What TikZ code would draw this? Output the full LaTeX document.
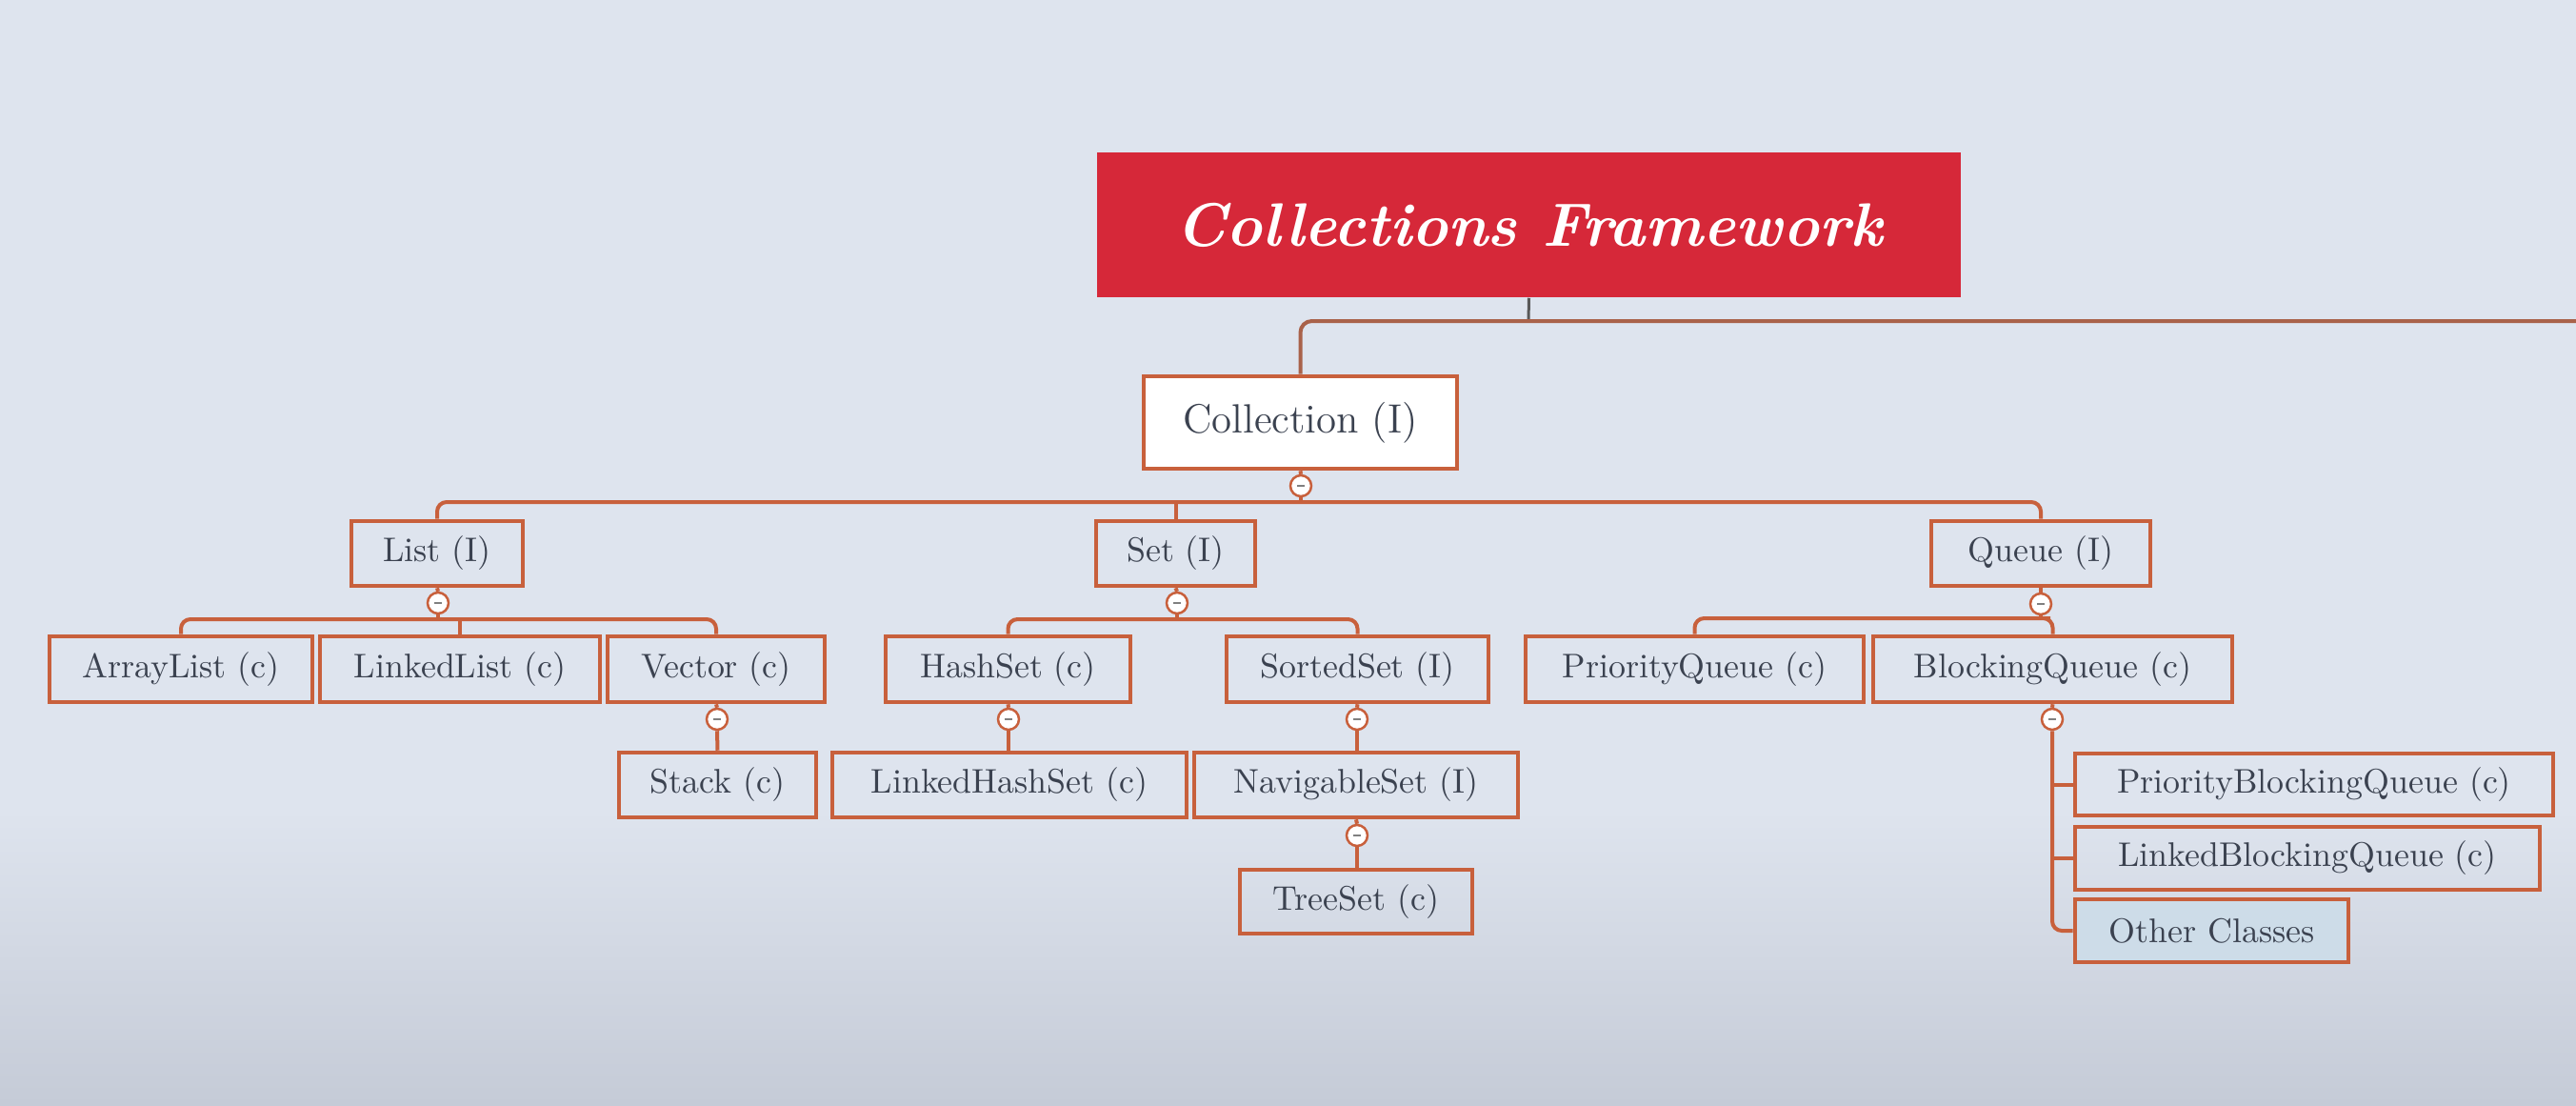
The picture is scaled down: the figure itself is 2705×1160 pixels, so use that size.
\documentclass[tikz,border=0pt]{standalone}
\usetikzlibrary{calc}
\definecolor{bgtop}{HTML}{DEE4EE}
\definecolor{bgbot}{HTML}{C5CBD7}
\definecolor{boxc}{HTML}{C8603C}
\definecolor{topc}{HTML}{A9624A}
\definecolor{txt}{HTML}{3B4250}
\definecolor{titlered}{HTML}{D62839}
\definecolor{selfill}{HTML}{CDDCE8}
\begin{document}
\begin{tikzpicture}[x=0.01cm,y=-0.01cm,
  box/.style={draw=boxc, line width=0.045cm, inner sep=0pt, text=txt,
    font=\fontsize{10.2}{12}\selectfont, minimum height=0.68cm},
  collbox/.style={box, fill=white, font=\fontsize{12.2}{14}\selectfont},
  titlebox/.style={fill=titlered, text=white, inner sep=0pt,
    font=\fontsize{18.3}{22}\selectfont\bfseries\itshape},
  conn/.style={draw=boxc, line width=0.04cm, rounded corners=0.1cm},
  topconn/.style={draw=topc, line width=0.04cm, rounded corners=0.12cm},
  tog/.style={circle, draw=boxc, fill=white, line width=0.025cm, minimum size=0.22cm, inner sep=0pt,
    path picture={\draw[gray, line width=0.02cm] ($(path picture bounding box.center)+(-4,0)$) -- ($(path picture bounding box.center)+(4,0)$);}}
]
% background
\fill[bgtop] (0,0) rectangle (2705,1160);
\shade[top color=bgtop, bottom color=bgbot] (0,1160) rectangle (2705,850);
\useasboundingbox (0,0) rectangle (2705,1160);

% title
\node[titlebox, minimum width=9.07cm, minimum height=1.52cm] (title) at (1605.5,236) {Collections Framework};
\coordinate (tb) at (1605,337);
\coordinate (redge) at (2705,337);

% level 1
\node[collbox, minimum width=3.29cm, minimum height=0.97cm] (coll) at (1365.5,443.5) {Collection (I)};
\node[tog] (collt) at (1366,510) {};
\coordinate (bus1) at (1366,527);

% level 2
\node[box, minimum width=1.80cm] (list) at (459,581) {List (I)};
\node[box, minimum width=1.67cm] (set) at (1234.5,581) {Set (I)};
\node[box, minimum width=2.30cm] (queue) at (2143,581) {Queue (I)};
\node[tog] (listt) at (460,633) {};
\node[tog] (sett) at (1236,633) {};
\node[tog] (queuet) at (2143,634) {};

% level 3
\node[box, minimum width=2.76cm, minimum height=0.69cm] (arraylist) at (190,702.5) {ArrayList (c)};
\node[box, minimum width=2.94cm, minimum height=0.69cm] (linkedlist) at (483,702.5) {LinkedList (c)};
\node[box, minimum width=2.28cm, minimum height=0.69cm] (vector) at (752,702.5) {Vector (c)};
\node[box, minimum width=2.57cm, minimum height=0.69cm] (hashset) at (1058.5,702.5) {HashSet (c)};
\node[box, minimum width=2.75cm, minimum height=0.69cm] (sortedset) at (1425.5,702.5) {SortedSet (I)};
\node[box, minimum width=3.55cm, minimum height=0.69cm] (pqueue) at (1779.5,702.5) {PriorityQueue (c)};
\node[box, minimum width=3.77cm, minimum height=0.69cm] (bqueue) at (2155.5,702.5) {BlockingQueue (c)};

\node[tog] (vectort) at (753,755) {};
\node[tog] (hashsett) at (1059,755) {};
\node[tog] (sortedsett) at (1425,755) {};
\node[tog] (bqueuet) at (2155,755) {};

% level 4
\node[box, minimum width=2.07cm] (stack) at (753.5,824) {Stack (c)};
\node[box, minimum width=3.72cm] (lhashset) at (1060,824) {LinkedHashSet (c)};
\node[box, minimum width=3.40cm] (navset) at (1424,824) {NavigableSet (I)};
\node[tog] (navsett) at (1425,877) {};
\node[box, minimum width=2.44cm, minimum height=0.67cm] (treeset) at (1424,946.5) {TreeSet (c)};

\node[box, minimum width=5.02cm, minimum height=0.65cm] (pbq) at (2430,823.5) {PriorityBlockingQueue (c)};
\node[box, minimum width=4.88cm, minimum height=0.66cm] (lbq) at (2423,901) {LinkedBlockingQueue (c)};
\node[box, fill=selfill, minimum width=2.87cm, minimum height=0.66cm] (other) at (2322.5,977) {Other Classes};

% connectors
\draw[draw=gray!70!black, line width=0.03cm] (title.south) -- (tb);
\draw[topconn] (coll.north) |- (redge);

\draw[conn] (coll.south) -- (collt.north);
\draw[conn] (collt.south) -- (bus1);
\draw[conn] (list.north) |- (bus1) -| (queue.north);
\draw[conn] (set.north) -- (set.north |- bus1);

\draw[conn] (list.south) -- (listt.north);
\draw[conn] (set.south) -- (sett.north);
\draw[conn] (queue.south) -- (queuet.north);

\coordinate (lbus) at (460,650);
\draw[conn] (listt.south) -- (lbus);
\draw[conn] (arraylist.north) |- (lbus) -| (vector.north);
\draw[conn] (linkedlist.north) -- (linkedlist.north |- lbus);

\coordinate (sbus) at (1236,650);
\draw[conn] (sett.south) -- (sbus);
\draw[conn] (hashset.north) |- (sbus) -| (sortedset.north);

\coordinate (qbus) at (2143,649);
\draw[conn] (queuet.south) -- (qbus);
\draw[conn] (pqueue.north) |- (qbus) -| (bqueue.north);

\draw[conn] (vector.south) -- (vectort.north);
\draw[conn] (vectort.south) -- (stack.north);
\draw[conn] (hashset.south) -- (hashsett.north);
\draw[conn] (hashsett.south) -- (hashsett.south |- lhashset.north);
\draw[conn] (sortedset.south) -- (sortedsett.north);
\draw[conn] (sortedsett.south) -- (sortedsett.south |- navset.north);
\draw[conn] (navset.south) -- (navsett.north);
\draw[conn] (navsett.south) -- (navsett.south |- treeset.north);

\draw[conn] (bqueue.south) -- (bqueuet.north);
\draw[conn] (bqueuet.south) |- (other.west);
\draw[conn] (pbq.west) -- (pbq.west -| bqueuet.south);
\draw[conn] (lbq.west) -- (lbq.west -| bqueuet.south);
\end{tikzpicture}
\end{document}
